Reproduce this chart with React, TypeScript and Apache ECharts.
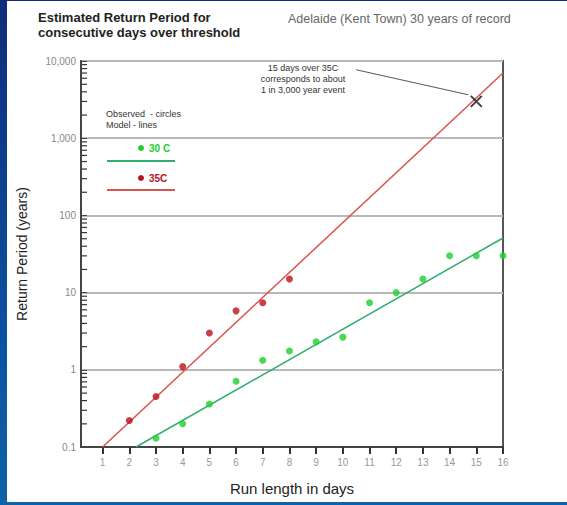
import React, { useEffect, useRef } from "react";
import * as echarts from "echarts";

const runDays = [1, 2, 3, 4, 5, 6, 7, 8, 9, 10, 11, 12, 13, 14, 15, 16];
const days35 = [2, 3, 4, 5, 6, 7, 8];
const obs35 = [0.22, 0.45, 1.1, 3.0, 5.8, 7.4, 15];
const days30 = [3, 4, 5, 6, 7, 8, 9, 10, 11, 12, 13, 14, 15, 16];
const obs30 = [0.13, 0.2, 0.36, 0.71, 1.33, 1.75, 2.3, 2.65, 7.4, 10, 15, 30, 30, 30];
const model35X = [1, 16];
const model35Y = [0.1, 7000];
const model30X = [2.25, 16];
const model30Y = [0.1, 51];
const eventPoint = [15, 3000];
const arrowFrom = [10.5, 7700];
const arrowTo = [14.7, 3650];
const X_MIN = 0.19;
const yMajor = [0.1, 1, 10, 100, 1000, 10000];
const yMinorTicks = [
  0.2, 0.3, 0.4, 0.5, 0.6, 0.7, 0.8, 0.9,
  2, 3, 4, 5, 6, 7, 8, 9,
  20, 30, 40, 50, 60, 70, 80, 90,
  200, 300, 400, 500, 600, 700, 800, 900,
  2000, 3000, 4000, 5000, 6000, 7000, 8000, 9000,
];

const FONT = "Liberation Sans, Arial, sans-serif";

export default function App() {
  const ref = useRef<HTMLDivElement>(null);
  useEffect(() => {
    if (!ref.current) return;
    const chart = echarts.init(ref.current, null, { renderer: "svg" });
    const fmt = (v: number) => {
      if (v >= 1000) return v.toLocaleString("en-US");
      return String(Math.round(v * 10) / 10);
    };
    chart.setOption({
      animation: false,
      backgroundColor: "transparent",
      textStyle: { fontFamily: FONT },
      grid: {
        left: 81,
        top: 61,
        right: 64,
        bottom: 58,
        show: true,
        borderColor: "#555",
        borderWidth: 2,
        backgroundColor: "#fff",
      },
      xAxis: {
        type: "value",
        min: X_MIN,
        max: 16,
        name: "Run length in days",
        nameLocation: "middle",
        nameGap: 34,
        nameTextStyle: { fontSize: 15, color: "#222", fontFamily: FONT },
        axisLine: { show: true, lineStyle: { color: "#444", width: 2 } },
        axisTick: {
          show: true,
          customValues: runDays,
          length: 7,
          inside: false,
          lineStyle: { color: "#333", width: 2 },
        },
        axisLabel: {
          customValues: runDays,
          color: "#999",
          fontSize: 10,
          margin: 10,
        },
        splitLine: { show: false },
      },
      yAxis: {
        type: "log",
        logBase: 10,
        min: 0.1,
        max: 10000,
        name: "Return Period (years)",
        nameLocation: "middle",
        nameGap: 52,
        nameTextStyle: { fontSize: 14, color: "#222", fontFamily: FONT },
        axisLine: { show: true, lineStyle: { color: "#444", width: 2 } },
        axisTick: {
          show: true,
          inside: true,
          customValues: yMajor,
          length: 6,
          lineStyle: { color: "#444", width: 1 },
        },
        axisLabel: {
          customValues: yMajor,
          color: "#888",
          fontSize: 10,
          margin: 5,
          formatter: fmt,
        },
        splitLine: { show: true, lineStyle: { color: "#b8b8b8", width: 2 } },
      },
      series: [
        {
          type: "custom",
          name: "minorTicks",
          coordinateSystem: "cartesian2d",
          encode: { x: 0, y: 1 },
          data: yMinorTicks.map((v) => [X_MIN, v]),
          clip: false,
          silent: true,
          z: 6,
          renderItem: (params: any, api: any) => {
            const p = api.coord([api.value(0), api.value(1)]);
            return {
              type: "rect",
              shape: { x: p[0] + 1, y: p[1] - 0.5, width: 5, height: 1.2 },
              style: { fill: "#333" },
            };
          },
        },
        {
          type: "line",
          name: "model35",
          data: model35X.map((x, i) => [x, model35Y[i]]),
          symbol: "none",
          lineStyle: { color: "#d9534f", width: 1.5 },
          z: 3,
        },
        {
          type: "line",
          name: "model30",
          data: model30X.map((x, i) => [x, model30Y[i]]),
          symbol: "none",
          lineStyle: { color: "#2fae6e", width: 1.5 },
          z: 3,
        },
        {
          type: "scatter",
          name: "obs35",
          data: days35.map((x, i) => [x, obs35[i]]),
          symbol: "circle",
          symbolSize: 7,
          itemStyle: { color: "#b8121c" },
          z: 4,
        },
        {
          type: "scatter",
          name: "obs30",
          data: days30.map((x, i) => [x, obs30[i]]),
          symbol: "circle",
          symbolSize: 7,
          itemStyle: { color: "#1ecf2a" },
          z: 4,
        },
        {
          type: "scatter",
          name: "event",
          data: [eventPoint],
          symbol: "path://M0,0L10,10M10,0L0,10",
          symbolSize: 11,
          itemStyle: { color: "transparent", borderColor: "#111", borderWidth: 2 },
          z: 5,
          markLine: {
            silent: true,
            symbol: ["none", "arrow"],
            symbolSize: [0, 9],
            label: { show: false },
            lineStyle: { color: "#555", width: 1, type: "solid" },
            data: [[{ coord: arrowFrom }, { coord: arrowTo }]],
          },
        },
      ],
      graphic: [
        {
          type: "text",
          left: 38,
          top: 10,
          style: {
            text: "Estimated Return Period for\nconsecutive days over threshold",
            font: `bold 13px ${FONT}`,
            fill: "#222",
            lineHeight: 15,
          },
        },
        {
          type: "text",
          left: 288,
          top: 12,
          style: {
            text: "Adelaide (Kent Town) 30 years of record",
            font: `12.5px ${FONT}`,
            fill: "#666",
          },
        },
        {
          type: "text",
          x: 303,
          y: 62,
          style: {
            text: "15 days over 35C\ncorresponds to about\n1 in 3,000 year event",
            font: `9px ${FONT}`,
            fill: "#333",
            align: "center",
            lineHeight: 11,
          },
        },
        {
          type: "text",
          left: 106,
          top: 108,
          style: {
            text: "Observed  - circles\nModel - lines",
            font: `9px ${FONT}`,
            fill: "#333",
            lineHeight: 11,
          },
        },
        {
          type: "circle",
          shape: { cx: 141, cy: 148, r: 3 },
          style: { fill: "#1ecf2a" },
        },
        {
          type: "text",
          left: 149,
          top: 143,
          style: { text: "30 C", font: `bold 10px ${FONT}`, fill: "#1ecf2a" },
        },
        {
          type: "line",
          shape: { x1: 107, y1: 161, x2: 175, y2: 161 },
          style: { stroke: "#2fae6e", lineWidth: 2 },
        },
        {
          type: "circle",
          shape: { cx: 141, cy: 178, r: 3 },
          style: { fill: "#b8121c" },
        },
        {
          type: "text",
          left: 149,
          top: 173,
          style: { text: "35C", font: `bold 10px ${FONT}`, fill: "#b8121c" },
        },
        {
          type: "line",
          shape: { x1: 107, y1: 190, x2: 175, y2: 190 },
          style: { stroke: "#d9534f", lineWidth: 2 },
        },
      ],
    });
    return () => chart.dispose();
  }, []);

  return (
    <div
      style={{
        position: "absolute",
        left: 0,
        top: 0,
        width: 567,
        height: 505,
        background: "linear-gradient(180deg, #0f2c7a 0%, #0b4f9c 60%, #0e62a8 100%)",
        overflow: "hidden",
      }}
    >
      <div
        style={{
          position: "absolute",
          left: 7,
          top: 1,
          width: 560,
          height: 501,
          background: "#fff",
        }}
      />
      <div
        ref={ref}
        style={{ position: "absolute", left: 0, top: 0, width: 567, height: 505 }}
      />
    </div>
  );
}
